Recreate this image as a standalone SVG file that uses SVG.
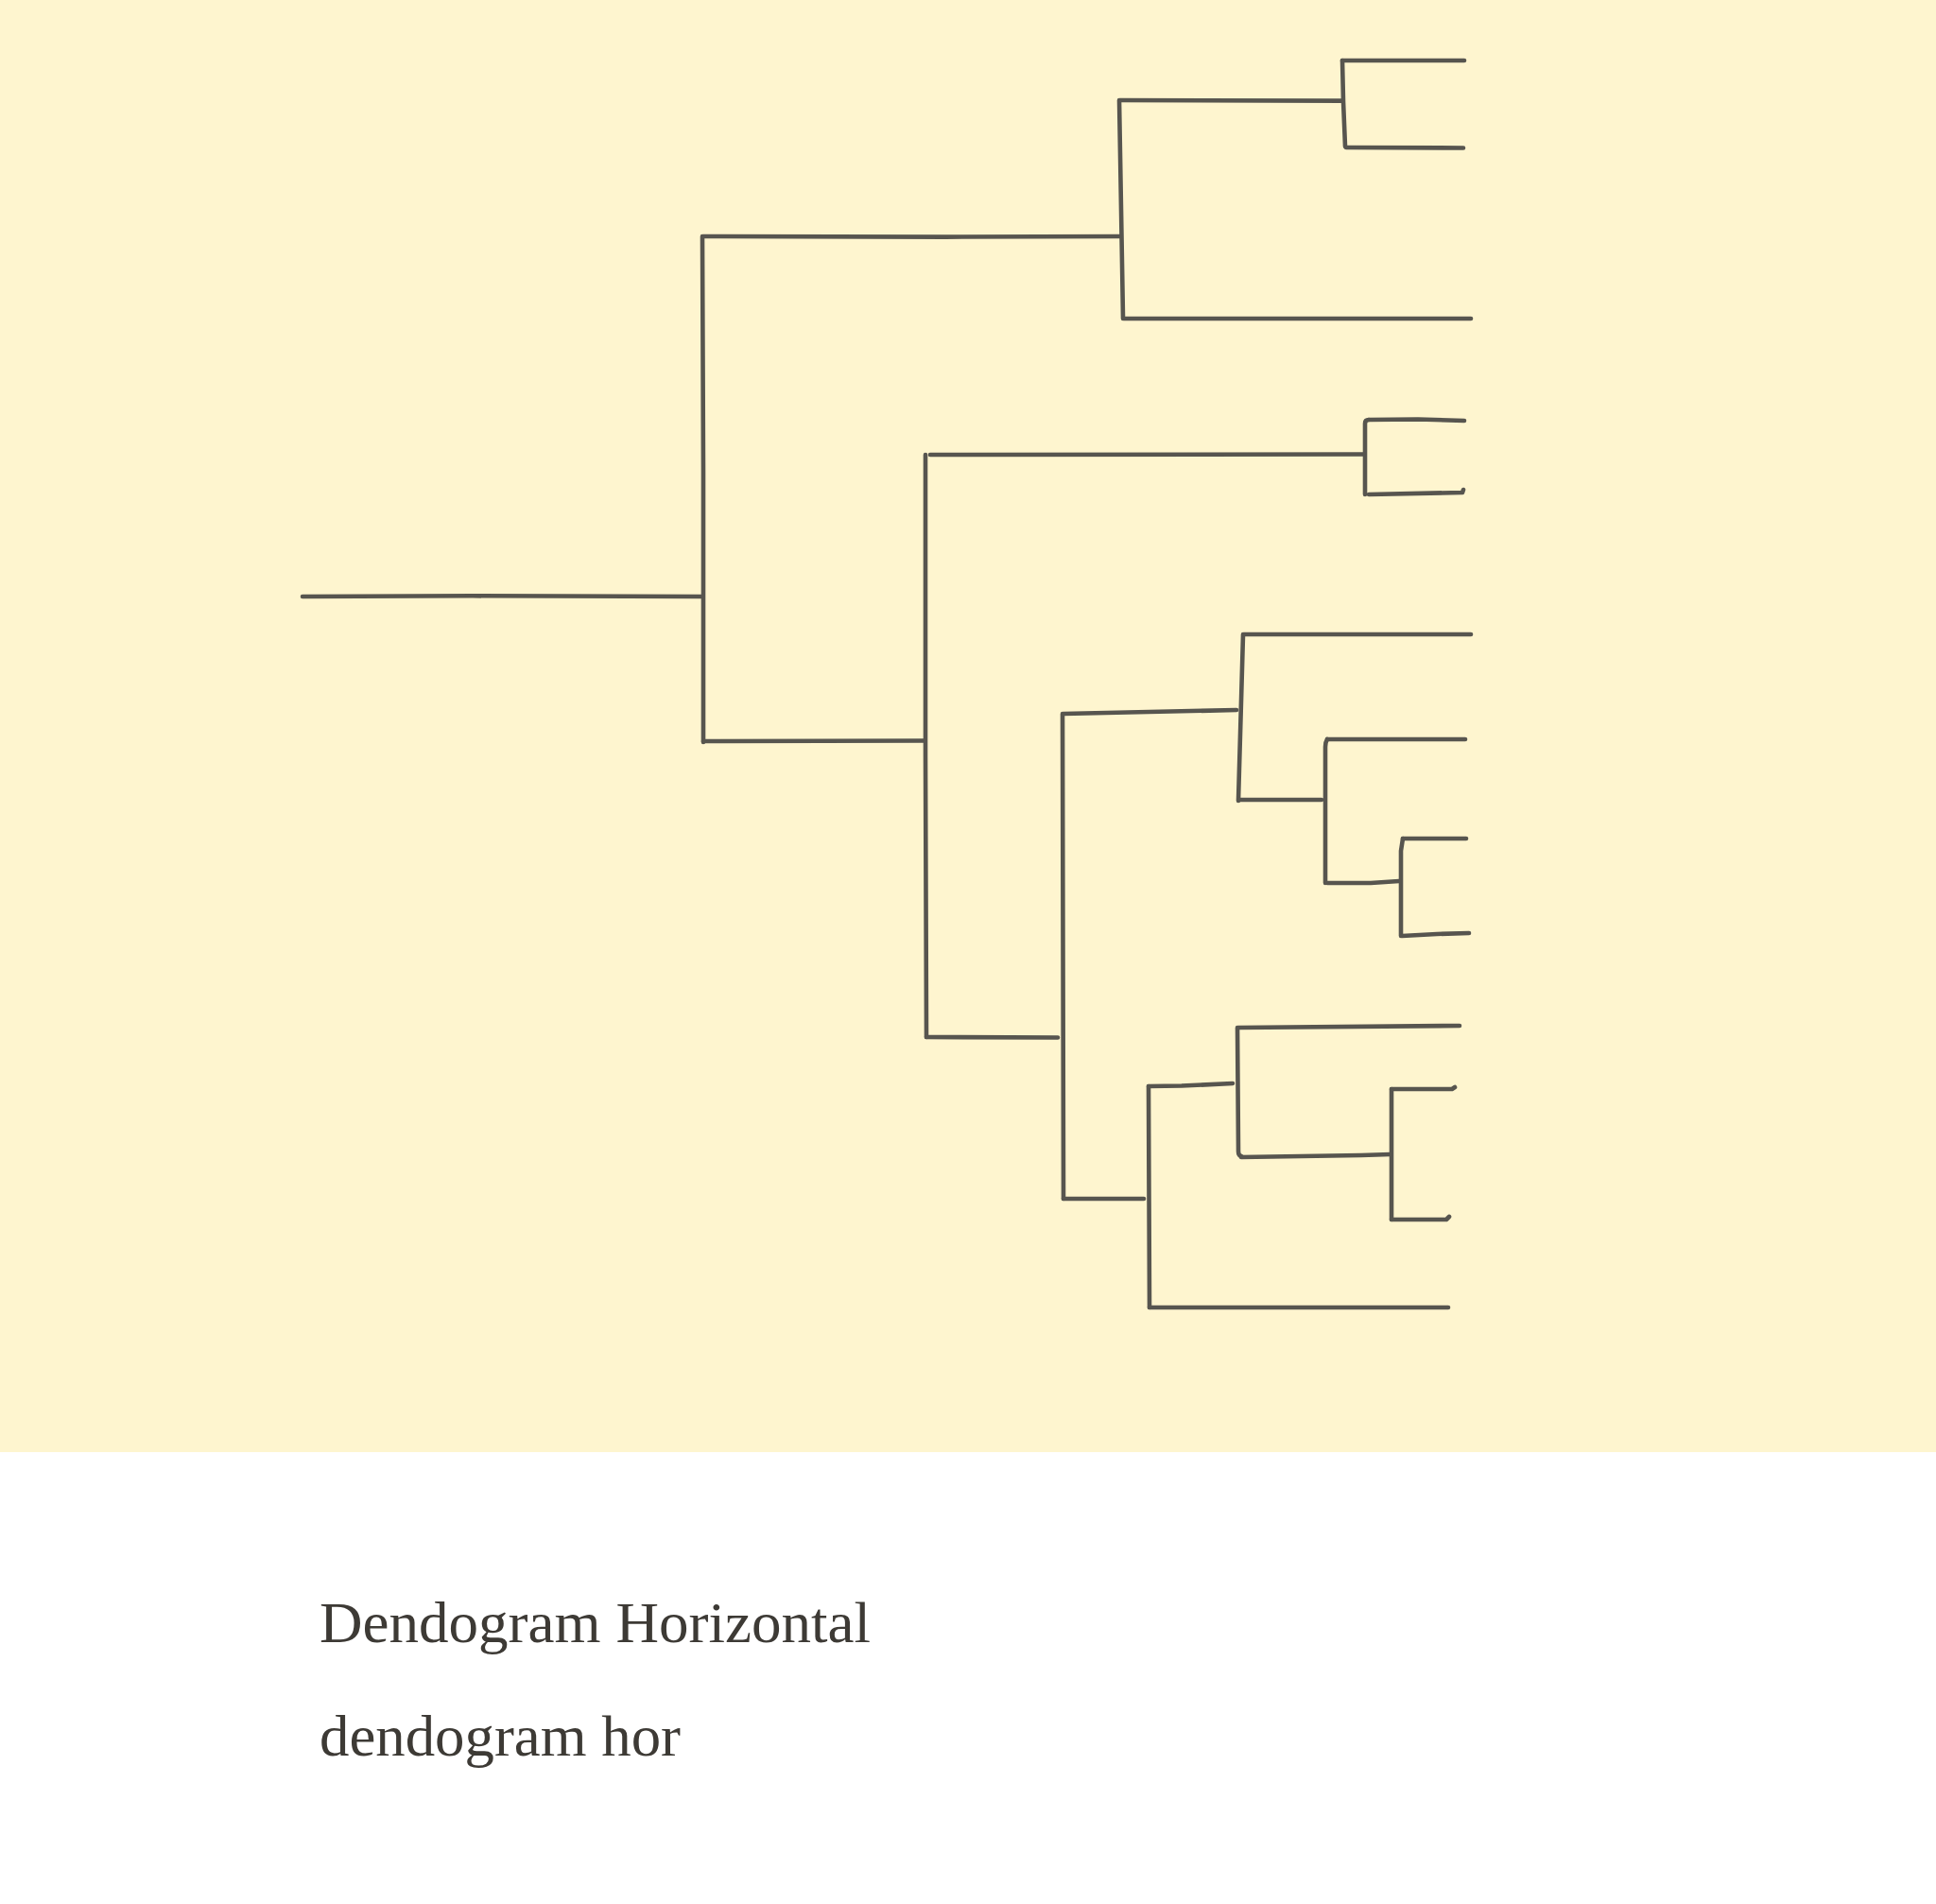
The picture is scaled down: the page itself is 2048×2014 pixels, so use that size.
<svg xmlns="http://www.w3.org/2000/svg" width="2048" height="2014" viewBox="0 0 2048 2014">
<style>
.ln{fill:none;stroke:#57554f;stroke-width:4.6;stroke-linecap:round;stroke-linejoin:round}
.tt{font-family:"Liberation Serif","Times New Roman",serif;font-size:62px;fill:#3d3a35}
</style>
<rect x="0" y="0" width="2048" height="2014" fill="#ffffff"/>
<rect x="0" y="0" width="2048" height="1536" fill="#fef5cf"/>
<g id="connectors">
<path class="ln" d="M320,631 L500,630.3 L742,631"/>
<path class="ln" d="M743,250 L744,500 L744,785"/>
<path class="ln" d="M744,250 L1000,250.6 L1185,250"/>
<path class="ln" d="M1184,106 L1188,337"/>
<path class="ln" d="M1185,106 L1420,106.6"/>
<path class="ln" d="M1420,64 L1421,107 L1423,155"/>
<path class="ln" d="M1420,64 L1549,64"/>
<path class="ln" d="M1424,156 L1548,156.5"/>
<path class="ln" d="M1189,337 L1556,337"/>
<path class="ln" d="M744,784 L977,783.5"/>
<path class="ln" d="M979,481 L979,800 L980,1097"/>
<path class="ln" d="M984,481 L1443,480.5"/>
<path class="ln" d="M1444,523 L1444,448 Q1444,444 1448,444"/>
<path class="ln" d="M1448,444 L1500,443.5 L1549,445"/>
<path class="ln" d="M1448,523 L1547,521 L1548,518"/>
<path class="ln" d="M980,1097 L1119,1097.5"/>
<path class="ln" d="M1124,755 L1125,1268"/>
<path class="ln" d="M1125,755 L1308,751"/>
<path class="ln" d="M1315,671 L1310,847"/>
<path class="ln" d="M1316,671 L1556,671"/>
<path class="ln" d="M1311,846 L1398,846"/>
<path class="ln" d="M1404,782 Q1402,785 1402,790 L1402,934"/>
<path class="ln" d="M1404,782 L1550,782"/>
<path class="ln" d="M1404,934 L1450,934 L1480,932"/>
<path class="ln" d="M1484,887 L1482,900 L1482,990"/>
<path class="ln" d="M1484,887 L1551,887"/>
<path class="ln" d="M1483,990 L1520,988 L1554,987"/>
<path class="ln" d="M1125,1268 L1210,1268"/>
<path class="ln" d="M1215,1149 L1216,1383"/>
<path class="ln" d="M1215,1149 L1250,1148.5 L1304,1146"/>
<path class="ln" d="M1309,1087 L1310,1218 Q1310,1222 1313,1223"/>
<path class="ln" d="M1310,1087 L1544,1085"/>
<path class="ln" d="M1313,1224 L1440,1222 L1471,1221"/>
<path class="ln" d="M1472,1152 L1472,1290"/>
<path class="ln" d="M1472,1152 L1536,1152 L1539,1150"/>
<path class="ln" d="M1472,1290 L1530,1290 L1533,1287"/>
<path class="ln" d="M1216,1383 L1532,1383"/>
</g>
<g id="title">
<text class="tt" x="338" y="1737" textLength="583" lengthAdjust="spacingAndGlyphs">Dendogram Horizontal</text>
</g>
<g id="subtitle">
<text class="tt" x="338" y="1857" textLength="382" lengthAdjust="spacingAndGlyphs">dendogram hor</text>
</g>
</svg>
